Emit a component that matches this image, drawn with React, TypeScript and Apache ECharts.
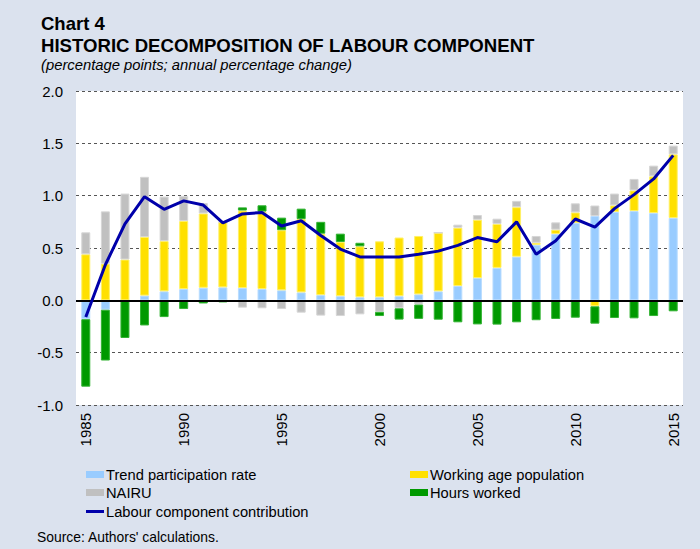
import React, { useEffect, useRef } from "react";
import * as echarts from "echarts";

const years = [
  "1985", "1986", "1987", "1988", "1989", "1990", "1991", "1992", "1993", "1994",
  "1995", "1996", "1997", "1998", "1999", "2000", "2001", "2002", "2003", "2004",
  "2005", "2006", "2007", "2008", "2009", "2010", "2011", "2012", "2013", "2014", "2015",
];

const trendParticipation = [
  -0.18, -0.09, 0.0, 0.045, 0.086, 0.108, 0.12, 0.124, 0.118, 0.108,
  0.096, 0.076, 0.05, 0.04, 0.03, 0.03, 0.04, 0.057, 0.086, 0.137,
  0.213, 0.31, 0.417, 0.53, 0.634, 0.74, 0.806, 0.844, 0.853, 0.834, 0.787,
];

const workingAgePopulation = [
  0.44, 0.35, 0.39, 0.56, 0.48, 0.65, 0.71, 0.624, 0.74, 0.74,
  0.574, 0.7, 0.587, 0.517, 0.486, 0.534, 0.56, 0.558, 0.56, 0.557,
  0.557, 0.42, 0.473, 0.02, 0.041, 0.1, -0.057, 0.063, 0.197, 0.351, 0.608,
];

const nairu = [
  0.21, 0.5, 0.63, 0.575, 0.425, 0.24, 0.1, 0.0, -0.07, -0.076,
  -0.083, -0.118, -0.146, -0.15, -0.134, -0.11, -0.076, -0.04, 0.0, 0.029,
  0.045, 0.05, 0.06, 0.065, 0.07, 0.087, 0.1, 0.113, 0.11, 0.102, 0.083,
];

const hoursWorked = [
  -0.645, -0.485, -0.36, -0.24, -0.16, -0.083, -0.03, -0.02, 0.03, 0.06,
  0.12, 0.1, 0.113, 0.08, 0.034, -0.04, -0.108, -0.137, -0.185, -0.21,
  -0.23, -0.232, -0.21, -0.19, -0.178, -0.166, -0.166, -0.169, -0.172, -0.15, -0.105,
];

const labourContribution = [
  -0.16, 0.34, 0.73, 0.99, 0.87, 0.95, 0.91, 0.74, 0.825, 0.84,
  0.71, 0.76, 0.62, 0.49, 0.415, 0.415, 0.415, 0.44, 0.47, 0.525,
  0.6, 0.56, 0.75, 0.44, 0.57, 0.777, 0.7, 0.876, 1.01, 1.16, 1.385,
];

const yTicks = { min: -1, max: 2, interval: 0.5 };

const FONT = "'Liberation Sans', Arial, Helvetica, sans-serif";

export default function App() {
  const ref = useRef<HTMLDivElement>(null);

  useEffect(() => {
    if (!ref.current) return;
    const chart = echarts.init(ref.current, undefined, { renderer: "svg" });

    const barSeries = (name: string, data: number[], color: string, border: string) => ({
      name,
      type: "bar",
      stack: "total",
      data,
      barWidth: 9,
      itemStyle: { color, borderColor: border, borderWidth: 1 },
      emphasis: { disabled: true },
    });

    const legendText = { fontFamily: FONT, fontSize: 14.7, color: "#000", padding: [0, 0, 0, -3] };
    const legendBase = {
      orient: "horizontal",
      itemWidth: 18,
      itemHeight: 7,
      textStyle: legendText,
      itemStyle: { borderWidth: 0 },
      selectedMode: false,
      padding: 0,
    };

    chart.setOption({
      animation: false,
      backgroundColor: "#dbe2ee",
      textStyle: { fontFamily: FONT },
      graphic: [
        {
          type: "text",
          x: 41,
          y: 23.5,
          style: { text: "Chart 4", font: `bold 18.5px ${FONT}`, fill: "#000", verticalAlign: "middle" },
        },
        {
          type: "text",
          x: 41,
          y: 45.2,
          style: {
            text: "HISTORIC DECOMPOSITION OF LABOUR COMPONENT",
            font: `bold 18.6px ${FONT}`,
            fill: "#000",
            verticalAlign: "middle",
          },
        },
        {
          type: "text",
          x: 41,
          y: 64.8,
          style: {
            text: "(percentage points; annual percentage change)",
            font: `italic 14.8px ${FONT}`,
            fill: "#000",
            verticalAlign: "middle",
          },
        },
        {
          type: "text",
          x: 37,
          y: 537,
          style: {
            text: "Source: Authors' calculations.",
            font: `13.9px ${FONT}`,
            fill: "#000",
            verticalAlign: "middle",
          },
        },
      ],
      grid: {
        left: 76,
        right: 17,
        top: 91,
        bottom: 144,
        show: true,
        backgroundColor: "#ffffff",
        borderWidth: 0,
        containLabel: false,
      },
      legend: [
        { ...legendBase, left: 86, top: 467, data: [{ name: "Trend participation rate", icon: "rect" }] },
        { ...legendBase, left: 410, top: 467, data: [{ name: "Working age population", icon: "rect" }] },
        { ...legendBase, left: 86, top: 485, data: [{ name: "NAIRU", icon: "rect" }] },
        { ...legendBase, left: 410, top: 485, data: [{ name: "Hours worked", icon: "rect" }] },
        {
          ...legendBase,
          left: 86,
          top: 504,
          itemHeight: 3,
          data: [{ name: "Labour component contribution", icon: "rect" }],
        },
      ],
      xAxis: {
        type: "category",
        data: years,
        boundaryGap: true,
        axisLine: { show: false },
        axisTick: { show: false },
        splitLine: { show: false },
        axisLabel: {
          interval: 4,
          rotate: 90,
          margin: 8,
          fontSize: 15,
          fontFamily: FONT,
          color: "#000",
        },
      },
      yAxis: {
        type: "value",
        min: yTicks.min,
        max: yTicks.max,
        interval: yTicks.interval,
        axisLine: { show: false },
        axisTick: { show: false },
        axisLabel: {
          margin: 13,
          fontSize: 15,
          fontFamily: FONT,
          color: "#000",
          formatter: (v: number) => v.toFixed(1),
        },
        splitLine: { show: true, lineStyle: { color: "#555", width: 1, type: [3, 3] } },
      },
      series: [
        barSeries("Trend participation rate", trendParticipation, "#99ccff", "#b8dcff"),
        barSeries("Working age population", workingAgePopulation, "#ffe000", "#fff066"),
        barSeries("NAIRU", nairu, "#c0c0c0", "#d6d6d6"),
        barSeries("Hours worked", hoursWorked, "#009900", "#33b333"),
        {
          name: "Labour component contribution",
          type: "line",
          data: labourContribution,
          symbol: "none",
          z: 5,
          lineStyle: { color: "#0000aa", width: 3 },
          itemStyle: { color: "#0000aa" },
          emphasis: { disabled: true },
          markLine: {
            silent: true,
            symbol: ["none", "none"],
            label: { show: false },
            lineStyle: { color: "#000", width: 2, type: "solid" },
            data: [{ yAxis: 0 }],
          },
        },
      ],
    });

    return () => chart.dispose();
  }, []);

  return <div ref={ref} style={{ width: 700, height: 549, position: "absolute", left: 0, top: 0 }} />;
}
